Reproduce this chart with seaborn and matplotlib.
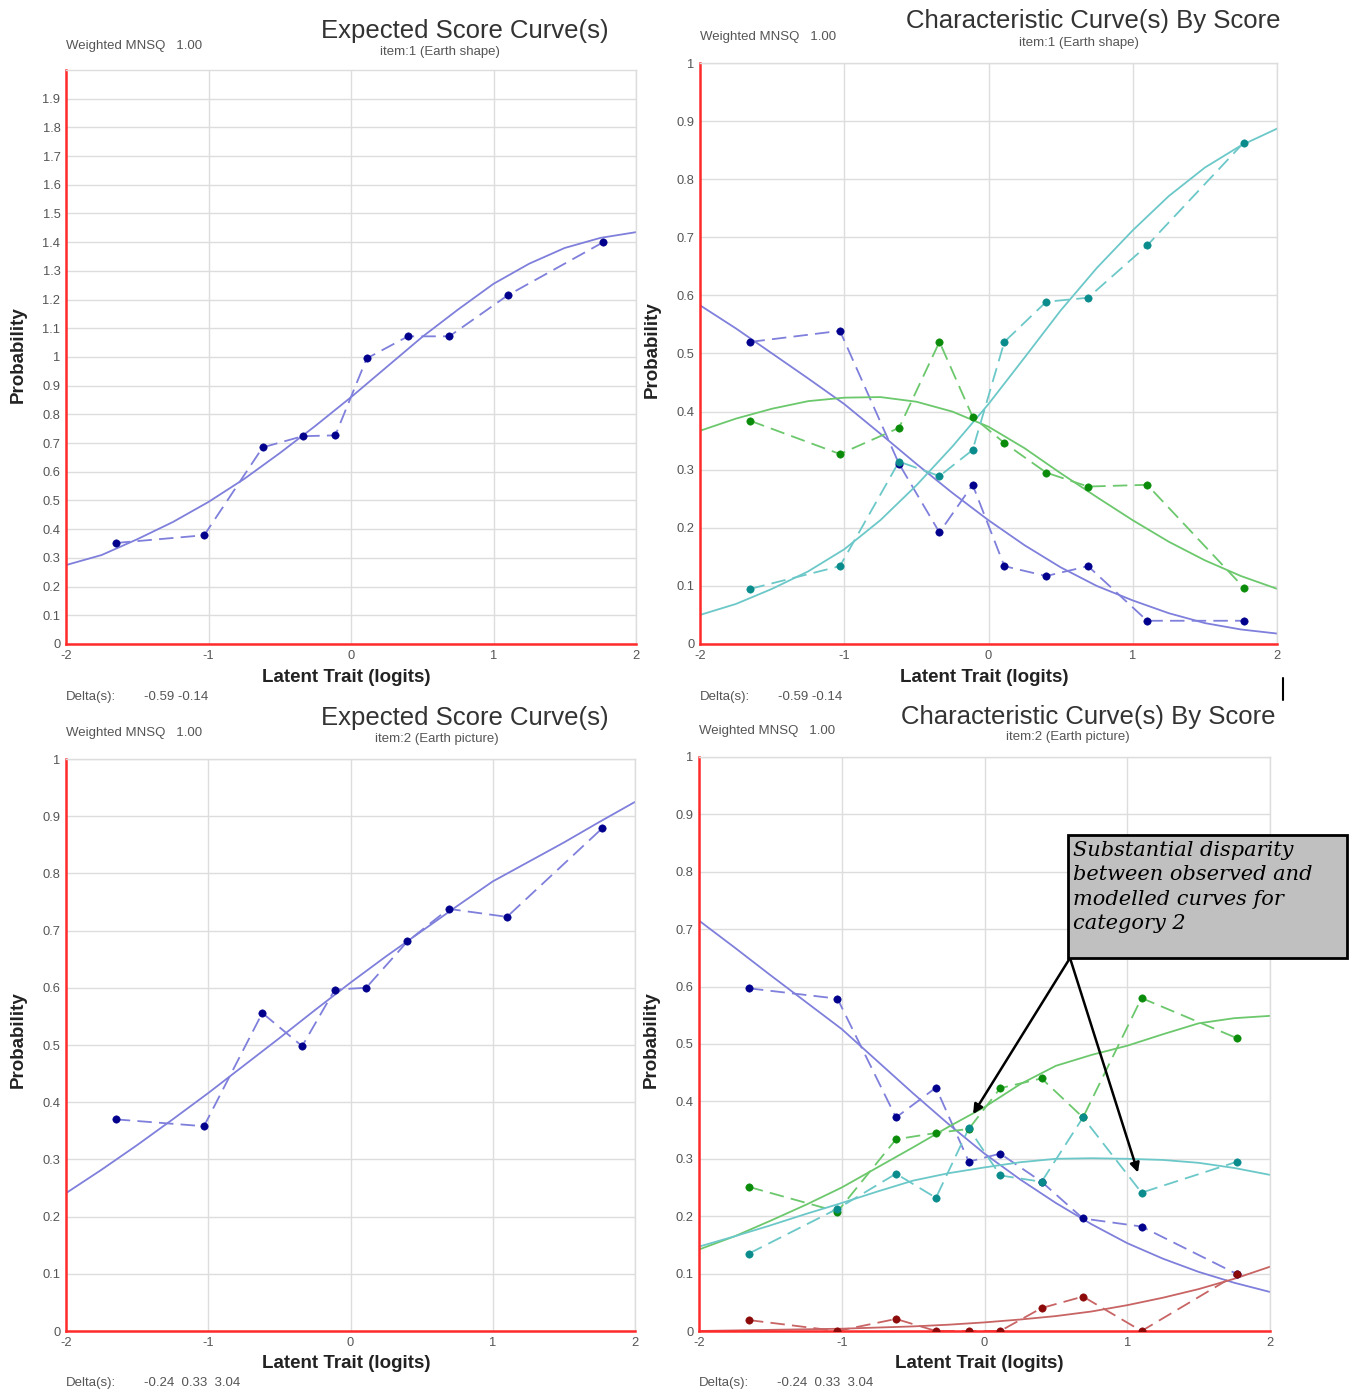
import numpy as np
import pandas as pd
import seaborn as sns
import matplotlib.pyplot as plt
from matplotlib.lines import Line2D
from matplotlib.patches import Rectangle

# centres of the observed score groups (logits), same for every panel
obs_x = [-1.65, -1.03, -0.62, -0.34, -0.11, 0.11, 0.40, 0.69, 1.10, 1.77]
curve_x = [-2.0, -1.75, -1.5, -1.25, -1.0, -0.75, -0.5, -0.25, 0.0,
           0.25, 0.5, 0.75, 1.0, 1.25, 1.5, 1.75, 2.0]

# item 1 - expected score
i1_exp_obs = [0.352, 0.379, 0.685, 0.724, 0.727, 0.995, 1.072, 1.072, 1.215, 1.400]
i1_exp_model = [0.275, 0.31, 0.365, 0.425, 0.495, 0.575, 0.665, 0.76, 0.86,
                0.965, 1.07, 1.165, 1.255, 1.325, 1.38, 1.415, 1.435]

# item 1 - category curves (0, 1, 2)
i1_cat0_obs = [0.520, 0.539, 0.310, 0.192, 0.274, 0.134, 0.117, 0.134, 0.040, 0.040]
i1_cat1_obs = [0.384, 0.327, 0.372, 0.520, 0.391, 0.346, 0.295, 0.271, 0.274, 0.097]
i1_cat2_obs = [0.095, 0.134, 0.314, 0.289, 0.334, 0.520, 0.589, 0.596, 0.686, 0.863]
i1_cat0_model = [0.583, 0.543, 0.50, 0.457, 0.413, 0.362, 0.31, 0.26, 0.213,
                 0.17, 0.132, 0.10, 0.075, 0.053, 0.036, 0.025, 0.018]
i1_cat1_model = [0.367, 0.388, 0.405, 0.418, 0.424, 0.425, 0.417, 0.40, 0.374,
                 0.337, 0.294, 0.253, 0.213, 0.176, 0.144, 0.117, 0.095]
i1_cat2_model = [0.05, 0.069, 0.095, 0.125, 0.163, 0.213, 0.273, 0.34, 0.413,
                 0.493, 0.574, 0.647, 0.712, 0.771, 0.82, 0.858, 0.887]

# item 2 - expected score
i2_exp_obs = [0.370, 0.358, 0.556, 0.498, 0.597, 0.600, 0.681, 0.738, 0.724, 0.879]
i2_exp_model = [0.241, 0.282, 0.325, 0.37, 0.416, 0.464, 0.512, 0.561, 0.609,
                0.655, 0.699, 0.743, 0.786, 0.82, 0.854, 0.89, 0.925]

# item 2 - category curves (0, 1, 2, 3)
i2_cat0_obs = [0.597, 0.579, 0.372, 0.424, 0.295, 0.309, 0.260, 0.196, 0.182, 0.099]
i2_cat1_obs = [0.251, 0.208, 0.334, 0.345, 0.352, 0.423, 0.440, 0.372, 0.580, 0.510]
i2_cat2_obs = [0.135, 0.213, 0.274, 0.232, 0.353, 0.271, 0.260, 0.372, 0.241, 0.295]
i2_cat3_obs = [0.019, 0.0, 0.021, 0.0, 0.0, 0.0, 0.040, 0.060, 0.0, 0.099]
i2_cat0_model = [0.715, 0.668, 0.62, 0.573, 0.526, 0.47, 0.414, 0.36, 0.309,
                 0.264, 0.223, 0.186, 0.153, 0.126, 0.103, 0.084, 0.068]
i2_cat1_model = [0.142, 0.165, 0.192, 0.22, 0.25, 0.285, 0.32, 0.356, 0.39,
                 0.43, 0.462, 0.481, 0.497, 0.517, 0.536, 0.545, 0.549]
i2_cat2_model = [0.147, 0.165, 0.184, 0.204, 0.223, 0.243, 0.262, 0.275, 0.285,
                 0.294, 0.30, 0.301, 0.30, 0.298, 0.293, 0.284, 0.272]
i2_cat3_model = [0.0, 0.001, 0.002, 0.003, 0.004, 0.006, 0.008, 0.011, 0.015,
                 0.02, 0.026, 0.034, 0.045, 0.058, 0.073, 0.091, 0.112]

# (line colour, marker colour) per category
cat_colors = [("#7f7fdc", "#00008c"), ("#6cc86c", "#0a8c0a"),
              ("#6cc8c8", "#0a8c8c"), ("#c86464", "#8c0a0a")]

W, H = 1352, 1391


def px_box(left, right, top, bottom):
    return [left / W, 1 - bottom / H, (right - left) / W, (bottom - top) / H]


def draw_pair(ax, model, obs, line_c, mark_c):
    sns.lineplot(x=curve_x, y=model, ax=ax, color=line_c, lw=1.3)
    sns.lineplot(x=obs_x, y=obs, ax=ax, color=line_c, lw=1.3, linestyle=(0, (8, 4)))
    sns.scatterplot(x=obs_x, y=obs, ax=ax, color=mark_c, s=28, edgecolor=mark_c, zorder=5)


def style_axes(ax, ymax, yticks):
    ax.set_xlim(-2, 2)
    ax.set_ylim(0, ymax)
    ax.set_xticks([-2, -1, 0, 1, 2])
    ax.set_xticklabels(["-2", "-1", "0", "1", "2"])
    ax.set_yticks(yticks)
    ax.set_yticklabels([f"{v:g}" for v in yticks])
    ax.grid(True, color="#dddddd", lw=1)
    ax.set_axisbelow(True)
    for s in ["left", "bottom"]:
        ax.spines[s].set_color("#ff2a2a")
        ax.spines[s].set_linewidth(1.8)
    for s in ["top", "right"]:
        ax.spines[s].set_color("#dddddd")
        ax.spines[s].set_linewidth(1)
    ax.tick_params(axis="both", colors="#ff2a2a", labelcolor="#555555",
                   labelsize=9.3, length=3, width=1.2, pad=1)
    ax.set_xlabel("")
    ax.set_ylabel("")


def panel_text(fig, left, title_cx, title_y, sub_cx, sub_y, title, sub,
               mnsq_y, prob_y, xlab_cx, xlab_y, delta_y, delta):
    fig.text(title_cx / W, 1 - title_y / H, title, ha="center", va="center",
             fontsize=18.5, color="#333333")
    fig.text(sub_cx / W, 1 - sub_y / H, sub, ha="center", va="center",
             fontsize=9.5, color="#555555")
    fig.text(left / W, 1 - mnsq_y / H, "Weighted MNSQ   1.00", ha="left", va="center",
             fontsize=9.5, color="#555555")
    fig.text((left - 48) / W, 1 - prob_y / H, "Probability", rotation=90, ha="center",
             va="center", fontsize=13.5, fontweight="bold", color="#222222")
    fig.text(xlab_cx / W, 1 - xlab_y / H, "Latent Trait (logits)", ha="center",
             va="center", fontsize=13.5, fontweight="bold", color="#222222")
    fig.text(left / W, 1 - delta_y / H, "Delta(s):", ha="left",
             va="center", fontsize=9.5, color="#555555")
    fig.text((left + 78) / W, 1 - delta_y / H, delta, ha="left",
             va="center", fontsize=9.5, color="#555555")


sns.set_style("white")
plt.rcParams["font.family"] = ["Liberation Sans", "DejaVu Sans"]

fig = plt.figure(figsize=(W / 100, H / 100), dpi=100)

ax_tl = fig.add_axes(px_box(66, 636, 70, 644))
ax_tr = fig.add_axes(px_box(700, 1277, 63, 644))
ax_bl = fig.add_axes(px_box(66, 635, 759, 1331))
ax_br = fig.add_axes(px_box(699, 1270, 757, 1331))

ticks_tl = [round(0.1 * i, 1) for i in range(20)]
ticks_p = [round(0.1 * i, 1) for i in range(11)]

draw_pair(ax_tl, i1_exp_model, i1_exp_obs, *cat_colors[0])
style_axes(ax_tl, 2.0, ticks_tl)

for mod, obs, cc in zip([i1_cat0_model, i1_cat1_model, i1_cat2_model],
                        [i1_cat0_obs, i1_cat1_obs, i1_cat2_obs], cat_colors[:3]):
    draw_pair(ax_tr, mod, obs, *cc)
style_axes(ax_tr, 1.0, ticks_p)

draw_pair(ax_bl, i2_exp_model, i2_exp_obs, *cat_colors[0])
style_axes(ax_bl, 1.0, ticks_p)

for mod, obs, cc in zip([i2_cat0_model, i2_cat1_model, i2_cat2_model, i2_cat3_model],
                        [i2_cat0_obs, i2_cat1_obs, i2_cat2_obs, i2_cat3_obs], cat_colors):
    draw_pair(ax_br, mod, obs, *cc)
style_axes(ax_br, 1.0, ticks_p)

panel_text(fig, 66, 465, 31, 440, 52, "Expected Score Curve(s)", "item:1 (Earth shape)",
           46, 355, 346, 678, 697, "-0.59 -0.14")
panel_text(fig, 700, 1093, 21, 1079, 43, "Characteristic Curve(s) By Score",
           "item:1 (Earth shape)", 37, 350, 984, 677, 697, "-0.59 -0.14")
panel_text(fig, 66, 465, 718, 437, 739, "Expected Score Curve(s)", "item:2 (Earth picture)",
           733, 1040, 346, 1364, 1383, "-0.24  0.33  3.04")
panel_text(fig, 699, 1088, 717, 1068, 737, "Characteristic Curve(s) By Score",
           "item:2 (Earth picture)", 731, 1040, 979, 1364, 1383, "-0.24  0.33  3.04")

# call-out box on the item 2 category panel
fig.add_artist(Rectangle((1068 / W, 1 - 958 / H), (1347 - 1068) / W, (958 - 835) / H,
                         transform=fig.transFigure, facecolor="#c0c0c0",
                         edgecolor="black", lw=2, zorder=10))
fig.text(1073 / W, 1 - 841 / H,
         "Substantial disparity\nbetween observed and\nmodelled curves for\ncategory 2",
         ha="left", va="top", fontsize=15, style="italic", family="DejaVu Serif",
         linespacing=1.36, color="black", zorder=11)
for tip in [(-0.08, 0.378), (1.075, 0.276)]:
    ax_br.annotate("", xy=tip, xycoords="data", xytext=(1070 / W, 1 - 958 / H),
                   textcoords="figure fraction",
                   arrowprops=dict(arrowstyle="-|>", color="black", lw=1.8,
                                   mutation_scale=14, shrinkA=0, shrinkB=0))

# stray cursor mark from the original screenshot
fig.add_artist(Line2D([1283 / W, 1283 / W], [1 - 678 / H, 1 - 700 / H],
                      transform=fig.transFigure, color="black", lw=1.5))

fig.savefig("out.png", dpi=100)
